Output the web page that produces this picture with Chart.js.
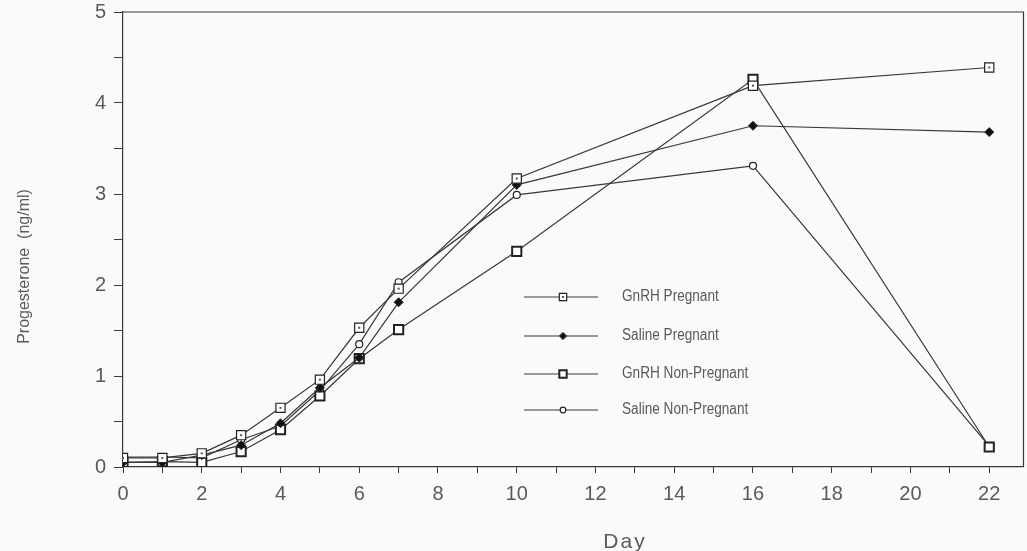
<!DOCTYPE html>
<html>
<head>
<meta charset="utf-8">
<script src="https://cdn.jsdelivr.net/npm/chart.js@4.4.1/dist/chart.umd.min.js"></script>
<style>
html,body{margin:0;padding:0;background:#fafaf8;overflow:hidden;}
#wrap{width:1027px;height:551px;position:relative;overflow:hidden;}
</style>
</head>
<body>
<div id="wrap"><canvas id="c" width="1032" height="551"></canvas></div>
<script>
const days = [0, 1, 2, 3, 4, 5, 6, 7, 10, 16, 22];
const gnrhPregnant = [0.10, 0.10, 0.15, 0.35, 0.65, 0.96, 1.53, 1.96, 3.17, 4.19, 4.39];
const salinePregnant = [0.05, 0.05, 0.13, 0.24, 0.48, 0.87, 1.20, 1.81, 3.10, 3.75, 3.68];
const gnrhNonPregnant = [0.05, 0.06, 0.05, 0.17, 0.41, 0.78, 1.19, 1.51, 2.37, 4.26, 0.22];
const salineNonPregnant = [0.11, 0.11, 0.10, 0.30, 0.45, 0.84, 1.35, 2.03, 2.99, 3.31, 0.23];
const seriesNames = ['GnRH Pregnant', 'Saline Pregnant', 'GnRH Non-Pregnant', 'Saline Non-Pregnant'];
const xTickLabels = ['0','2','4','6','8','10','12','14','16','18','20','22'];
const yTickLabels = ['0','1','2','3','4','5'];
const xTitle = 'Day';
const yTitle = 'Progesterone  (ng/ml)';

const INK = '#383838';
const TXT = '#5a5a5a';
const FONT = "'Liberation Sans', Arial, sans-serif";

function pts(vals){ return days.map((d,i)=>({x:d, y:vals[i]})); }

const styles = [
  {pointStyle:'rect', radius:6.5, bg:'#ffffff', bw:1.2},
  {pointStyle:'rectRot', radius:4.5, bg:'#111111', bw:1},
  {pointStyle:'rect', radius:6.5, bg:'#ffffff', bw:2},
  {pointStyle:'circle', radius:3.5, bg:'#ffffff', bw:1.2}
];
const allVals = [gnrhPregnant, salinePregnant, gnrhNonPregnant, salineNonPregnant];

const datasets = allVals.map((v,i)=>({
  label: seriesNames[i],
  data: pts(v),
  borderColor: INK,
  borderWidth: 1.2,
  pointStyle: styles[i].pointStyle,
  pointRadius: styles[i].radius,
  pointBackgroundColor: styles[i].bg,
  pointBorderColor: '#222',
  pointBorderWidth: styles[i].bw,
  tension: 0,
  fill: false
}));

const decor = {
  id: 'decor',
  afterDatasetsDraw(chart){
    const {ctx, chartArea:a, scales:{x, y}} = chart;
    ctx.save();
    // frame top and right
    ctx.strokeStyle = INK; ctx.lineWidth = 1.2;
    ctx.beginPath();
    ctx.moveTo(a.left, a.top); ctx.lineTo(a.right, a.top); ctx.lineTo(a.right, a.bottom);
    ctx.stroke();
    // dots inside GnRH Pregnant squares
    const meta0 = chart.getDatasetMeta(0);
    ctx.fillStyle = '#555';
    meta0.data.forEach(p=>{ ctx.fillRect(p.x-1, p.y-1, 2, 2); });
    // legend
    const lx0 = a.left + 401, lx1 = a.left + 475, mx = a.left + 440, tx = a.left + 499;
    const rows = [a.top + 285, a.top + 324, a.top + 362, a.top + 398];
    ctx.textBaseline = 'middle';
    ctx.textAlign = 'left';
    rows.forEach((ry,i)=>{
      ctx.strokeStyle = INK; ctx.lineWidth = 1.2;
      ctx.beginPath(); ctx.moveTo(lx0, ry); ctx.lineTo(lx1, ry); ctx.stroke();
      const s = styles[i];
      ctx.lineWidth = s.bw; ctx.strokeStyle = '#222'; ctx.fillStyle = s.bg;
      Chart.helpers.drawPoint(ctx, {pointStyle:s.pointStyle, radius:s.radius*0.8, borderWidth:s.bw}, mx, ry);
      if (i===0){ ctx.fillStyle='#555'; ctx.fillRect(mx-1, ry-1, 2, 2); }
      ctx.save();
      ctx.translate(tx, ry);
      ctx.scale(0.85, 1);
      ctx.font = "16px " + FONT;
      ctx.fillStyle = TXT;
      ctx.fillText(seriesNames[i], 0, 0);
      ctx.restore();
    });
    // axis titles
    ctx.fillStyle = TXT;
    ctx.textAlign = 'center';
    ctx.textBaseline = 'alphabetic';
    ctx.font = "21px " + FONT;
    ctx.letterSpacing = '2px';
    ctx.fillText(xTitle, x.getPixelForValue(12.75), a.bottom + 81);
    ctx.letterSpacing = '0px';
    ctx.translate(24.5, (a.top + a.bottom) / 2 + 27);
    ctx.rotate(-Math.PI/2);
    ctx.textBaseline = 'middle';
    ctx.font = "16px " + FONT;
    ctx.fillText(yTitle, 0, 0);
    ctx.restore();
  }
};

new Chart(document.getElementById('c'), {
  type: 'line',
  data: { datasets },
  options: {
    responsive: false,
    animation: false,
    layout: { padding: { top: 12, right: 0, left: 0, bottom: 0 } },
    plugins: { legend: { display: false }, tooltip: { enabled: false } },
    scales: {
      x: {
        type: 'linear', min: 0, max: 22.87,
        afterFit(s){ s.height = 84; s.paddingLeft = 0; s.paddingRight = 0; },
        border: { display: true, color: INK, width: 1.2 },
        grid: { drawOnChartArea: false, drawTicks: true, tickLength: 6, color: INK },
        ticks: {
          stepSize: 1, includeBounds: false, padding: 9, maxRotation: 0, autoSkip: false,
          color: TXT, font: { size: 20, family: FONT },
          callback: (v)=> (v % 2 === 0 ? xTickLabels[v/2] : '')
        }
      },
      y: {
        min: 0, max: 5,
        afterFit(s){ s.width = 123; s.paddingTop = 0; s.paddingBottom = 0; },
        border: { display: true, color: INK, width: 1.2 },
        grid: { drawOnChartArea: false, drawTicks: true, tickLength: 9, color: INK },
        ticks: {
          stepSize: 0.5, padding: 8, autoSkip: false,
          color: TXT, font: { size: 20, family: FONT },
          callback: (v)=> (Number.isInteger(v) ? yTickLabels[v] : '')
        }
      }
    }
  },
  plugins: [decor]
});
</script>
</body>
</html>
